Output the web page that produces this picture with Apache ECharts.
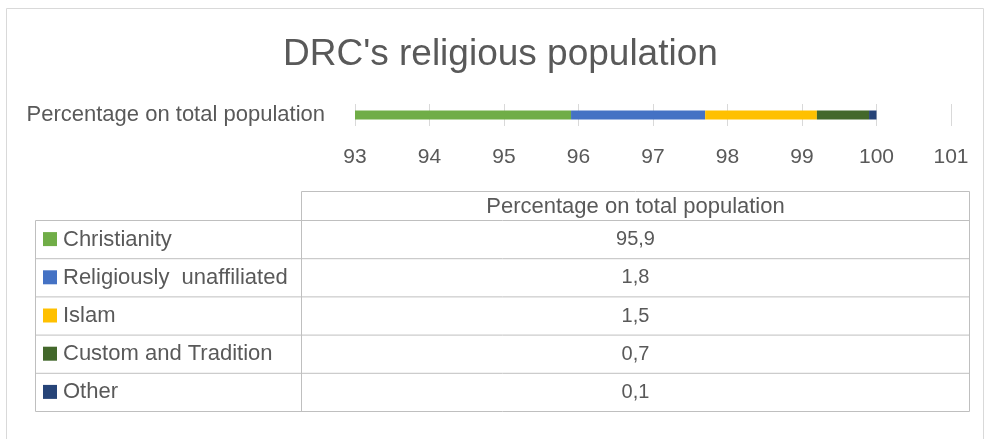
<!DOCTYPE html>
<html>
<head>
<meta charset="utf-8">
<script src="https://cdn.jsdelivr.net/npm/echarts@6/dist/echarts.min.js"></script>
<style>
  html, body { margin: 0; padding: 0; background: #fff; }
  #chart { width: 985px; height: 439px; }
</style>
</head>
<body>
<div id="chart"></div>
<script>
// data
const titleText = "DRC's religious population";
const categories = ['Percentage on total population'];
const religions = ['Christianity', 'Religiously  unaffiliated', 'Islam', 'Custom and Tradition', 'Other'];
const shares = [95.9, 1.8, 1.5, 0.7, 0.1];
const axisMin = 93;
const axisMax = 101;

// office palette
const palette = ['#70ad47', '#4472c4', '#ffc000', '#43682b', '#264478'];
const FONT = '"Liberation Sans", Arial, sans-serif';
const TXT = '#595959';

const chart = echarts.init(document.getElementById('chart'));

const series = religions.map((name, i) => ({
  name,
  type: 'bar',
  stack: 'total',
  barWidth: 9,
  clip: true,
  itemStyle: { color: palette[i] },
  data: [shares[i]]
}));

// data table under the chart (layout only, values come from the arrays)
const tbl = { left: 35.5, mid: 301.5, right: 969.5, top: 191.5, head: 220.5, rowH: 38.2 };
const line = (x1, y1, x2, y2) => ({
  type: 'line', silent: true,
  shape: { x1, y1, x2, y2 },
  style: { stroke: '#bfbfbf', lineWidth: 1 }
});
const graphics = [
  { type: 'rect', silent: true, shape: { x: 6.5, y: 8.5, width: 977, height: 445 },
    style: { fill: 'none', stroke: '#d9d9d9', lineWidth: 1 } }
];
const bottom = tbl.head + tbl.rowH * religions.length;
graphics.push(line(tbl.mid, tbl.top, tbl.right, tbl.top));
graphics.push(line(tbl.mid, tbl.top, tbl.mid, bottom));
graphics.push(line(tbl.right, tbl.top, tbl.right, bottom));
graphics.push(line(tbl.left, tbl.head, tbl.left, bottom));
graphics.push(line(tbl.left, tbl.head, tbl.right, tbl.head));
graphics.push({
  type: 'text', silent: true, x: (tbl.mid + tbl.right) / 2, y: (tbl.top + tbl.head) / 2 + 1,
  style: { text: categories[0], font: '22px ' + FONT, fill: TXT, align: 'center', verticalAlign: 'middle' }
});
religions.forEach((name, i) => {
  const y0 = tbl.head + tbl.rowH * i;
  const cy = y0 + tbl.rowH / 2;
  graphics.push(line(tbl.left, y0 + tbl.rowH, tbl.right, y0 + tbl.rowH));
  graphics.push({ type: 'rect', silent: true, shape: { x: 43, y: cy - 7.5, width: 14, height: 14 },
    style: { fill: palette[i] } });
  graphics.push({
    type: 'text', silent: true, x: 63, y: cy,
    style: { text: name, font: '22px ' + FONT, fill: TXT, align: 'left', verticalAlign: 'middle' }
  });
  graphics.push({
    type: 'text', silent: true, x: (tbl.mid + tbl.right) / 2, y: cy,
    style: { text: shares[i].toFixed(1).replace('.', ','), font: '20px ' + FONT, fill: TXT,
      align: 'center', verticalAlign: 'middle' }
  });
});

chart.setOption({
  animation: false,
  title: {
    text: titleText,
    left: 278,
    top: 31,
    textStyle: { fontFamily: FONT, fontSize: 37, fontWeight: 'normal', color: TXT }
  },
  grid: { left: 355, right: 34, top: 104, height: 22, containLabel: false },
  xAxis: {
    type: 'value',
    min: axisMin,
    max: axisMax,
    interval: 1,
    axisLine: { show: false },
    axisTick: { show: false },
    axisLabel: { color: TXT, fontFamily: FONT, fontSize: 21, margin: 21 },
    splitLine: { show: true, showMinLine: true, showMaxLine: true, lineStyle: { color: '#d9d9d9', width: 1 } }
  },
  yAxis: {
    type: 'category',
    data: categories,
    axisLine: { show: false },
    axisTick: { show: false },
    axisLabel: { color: TXT, fontFamily: FONT, fontSize: 22, margin: 30 }
  },
  series,
  graphic: graphics
});
</script>
</body>
</html>
